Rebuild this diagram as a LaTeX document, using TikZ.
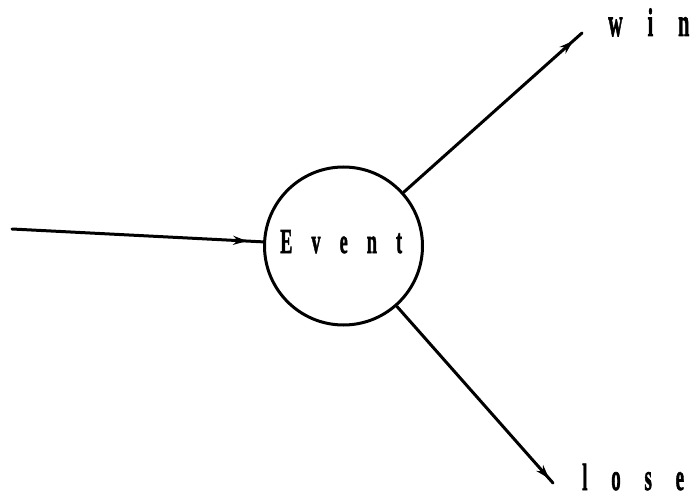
\documentclass[tikz,border=0pt]{standalone}
\usepackage{fontspec}
\usepackage{graphicx}
\setmainfont{Liberation Serif}
\newfontfamily\evfont{Liberation Serif}[LetterSpace=105, FakeBold=2]
\newfontfamily\outfont{Liberation Serif}[LetterSpace=125, FakeBold=2]
\usetikzlibrary{decorations.markings,arrows.meta}
\tikzset{
  wire/.style={line width=3pt, line cap=round},
  tiparrow/.style={postaction=decorate, decoration={markings,
     mark=at position #1 with {\arrow{Stealth[length=14pt,width=9pt]}}}},
  lbl/.style={inner sep=0pt, anchor=base west, text depth=0pt},
}
\begin{document}
\begin{tikzpicture}[x=1pt,y=-1pt]
\useasboundingbox (0,0) rectangle (699,500);
\node[draw, circle, line width=3pt, minimum size=158pt, inner sep=0pt] (ev) at (343.5,246) {};
\node[lbl] (evt) at (280,253) {\fontsize{35}{35}\evfont\bfseries\scalebox{0.52}[1]{Event\kern-1.05em}};
\coordinate (in) at (12,229);
\coordinate (wend) at (582,33);
\coordinate (lend) at (553,483);
\draw[wire, tiparrow=-16pt] (in) -- (ev);
\draw[wire, tiparrow=-12pt] (ev) -- (wend);
\draw[wire, tiparrow=-6pt] (ev) -- (lend);
\node[lbl] (win) at (608,36) {\fontsize{40}{40}\outfont\bfseries\scalebox{0.5}[1]{win\kern-1.25em}};
\node[lbl] (lose) at (582,490) {\fontsize{38}{38}\outfont\bfseries\scalebox{0.5}[1]{lose\kern-1.25em}};
\end{tikzpicture}
\end{document}
